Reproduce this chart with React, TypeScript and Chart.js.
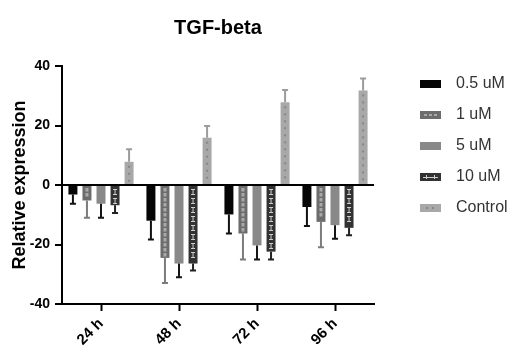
import React, { useEffect, useRef } from 'react';
import { Chart, registerables } from 'chart.js';

Chart.register(...registerables);

const categories = ['24 h', '48 h', '72 h', '96 h'];
const seriesNames = ['0.5 uM', '1 uM', '5 uM', '10 uM', 'Control'];
const values05 = [-3.2, -12, -9.9, -7.4];
const values1 = [-5.2, -24.5, -16.3, -12.4];
const values5 = [-6.3, -26.4, -20.3, -13.5];
const values10 = [-6.8, -26.4, -22.4, -14.4];
const valuesControl = [7.8, 15.9, 27.8, 31.8];
const err05 = [3.1, 6.3, 6.4, 6.4];
const err1 = [5.8, 8.4, 8.7, 8.5];
const err5 = [4.7, 4.6, 4.7, 4.6];
const err10 = [2.6, 2.3, 2.6, 2.5];
const errControl = [4.2, 3.9, 4.1, 4.0];
const yMin = -40;
const yMax = 40;
const yStep = 20;

const FONT = "'Liberation Sans', Arial, Helvetica, sans-serif";
const fillColors = ['#060606', '#6c6c6c', '#898989', '#323232', '#a8a8a8'];
const errColors = ['#111111', '#7c7c7c', '#151515', '#222222', '#9c9c9c'];
const patterns = ['none', 'dash', 'none', 'ibeam', 'dot'];

function makeLegendImage(i: number): HTMLCanvasElement {
  const c = document.createElement('canvas');
  c.width = 28;
  c.height = 8;
  const g = c.getContext('2d')!;
  g.fillStyle = fillColors[i];
  g.fillRect(0, 0, 21, 8);
  const p = patterns[i];
  if (p === 'dash') {
    g.fillStyle = '#a9a9a9';
    for (let x = 4; x < 19; x += 5) g.fillRect(x, 3, 3, 2);
  } else if (p === 'ibeam') {
    g.fillStyle = '#d0d0d0';
    g.fillRect(3, 4, 15, 1);
    g.fillRect(6, 2, 1, 4);
    g.fillRect(14, 2, 1, 4);
  } else if (p === 'dot') {
    g.fillStyle = '#868686';
    g.fillRect(6, 3, 2, 2);
    g.fillRect(12, 3, 2, 2);
  }
  return c;
}

const decorPlugin = {
  id: 'decorAndErrors',
  afterDatasetsDraw(chart: any) {
    const ctx = chart.ctx;
    const yScale = chart.scales.y;
    ctx.save();
    chart.data.datasets.forEach((ds: any, i: number) => {
      const meta = chart.getDatasetMeta(i);
      meta.data.forEach((bar: any, j: number) => {
        const { x, y, base } = bar.getProps(['x', 'y', 'base'], true);
        const top = Math.min(y, base);
        const bottom = Math.max(y, base);
        const p = patterns[i];
        if (p === 'dash') {
          ctx.fillStyle = '#a9a9a9';
          for (let yy = top + 2; yy + 3 < bottom - 1; yy += 5) ctx.fillRect(x - 1.5, yy, 3, 3.5);
        } else if (p === 'ibeam') {
          ctx.fillStyle = '#cfcfcf';
          for (let yy = top + 3; yy + 6 < bottom - 1; yy += 9) {
            ctx.fillRect(x - 2, yy, 4, 1);
            ctx.fillRect(x - 0.5, yy, 1, 6);
            ctx.fillRect(x - 2, yy + 5, 4, 1);
          }
        } else if (p === 'dot') {
          ctx.fillStyle = '#878787';
          for (let yy = top + 4; yy + 2 < bottom - 1; yy += 7) ctx.fillRect(x - 1, yy, 2, 2);
        }
        // error bar
        const v = ds.data[j];
        const e = ds.errors[j];
        const end = v + (v < 0 ? -e : e);
        const yEnd = yScale.getPixelForValue(end);
        ctx.strokeStyle = errColors[i];
        ctx.lineWidth = 2;
        ctx.beginPath();
        ctx.moveTo(x, y);
        ctx.lineTo(x, yEnd);
        ctx.moveTo(x - 3, yEnd);
        ctx.lineTo(x + 3, yEnd);
        ctx.stroke();
      });
    });
    ctx.restore();
  },
};

export default function App() {
  const ref = useRef<HTMLCanvasElement | null>(null);
  useEffect(() => {
    if (!ref.current) return;
    const allValues = [values05, values1, values5, values10, valuesControl];
    const allErrors = [err05, err1, err5, err10, errControl];
    const legendImages = seriesNames.map((_, i) => makeLegendImage(i));
    const chart = new Chart(ref.current, {
      type: 'bar',
      data: {
        labels: categories,
        datasets: seriesNames.map((name, i) => ({
          label: name,
          data: allValues[i],
          errors: allErrors[i],
          backgroundColor: fillColors[i],
          borderWidth: 0,
          categoryPercentage: 0.9,
          barPercentage: 0.64,
        })) as any,
      },
      options: {
        responsive: false,
        animation: false,
        layout: { padding: 0 },
        scales: {
          x: {
            offset: true,
            afterFit: (s: any) => { s.height = 43; },
            border: { display: true, color: '#000', width: 2 },
            grid: { display: true, drawOnChartArea: false, offset: false, tickColor: '#000', tickLength: 7, tickWidth: 2 },
            ticks: { color: '#000', font: { family: FONT, size: 15, weight: 'bold' }, maxRotation: 45, minRotation: 45, padding: 4 },
          },
          y: {
            min: yMin,
            max: yMax,
            z: 1,
            afterFit: (s: any) => { s.width = 62; },
            border: { display: true, color: '#000', width: 2 },
            grid: {
              drawOnChartArea: true,
              color: (c: any) => (c.tick && c.tick.value === 0 ? '#000' : 'rgba(0,0,0,0)'),
              lineWidth: 2,
              tickColor: '#000',
              tickLength: 7,
              tickWidth: 2,
            },
            ticks: { stepSize: yStep, color: '#000', font: { family: FONT, size: 14, weight: 'bold' }, padding: 5 },
            title: { display: true, text: 'Relative expression', color: '#000', font: { family: FONT, size: 18, weight: 'bold' }, padding: { top: 9, bottom: 0 } },
          },
          y2: {
            position: 'right',
            display: true,
            grid: { display: false },
            border: { display: false },
            ticks: { display: false },
            afterFit: (s: any) => { s.width = 31; },
          },
        },
        plugins: {
          title: {
            display: true,
            text: 'TGF-beta',
            fullSize: false,
            color: '#000',
            font: { family: FONT, size: 20, weight: 'bold', lineHeight: 1.2 },
            padding: { top: 16, bottom: 26 },
          },
          legend: {
            position: 'right',
            align: 'start',
            fullSize: true,
            maxWidth: 104,
            title: { display: true, text: ' ', font: { size: 10, lineHeight: 1 }, padding: { top: 51, bottom: 0 } },
            labels: {
              usePointStyle: true,
              pointStyleWidth: 28,
              boxHeight: 8,
              padding: 15,
              color: '#333',
              font: { family: FONT, size: 16 },
              generateLabels: (ch: any) =>
                ch.data.datasets.map((ds: any, i: number) => ({
                  text: ds.label,
                  datasetIndex: i,
                  hidden: false,
                  pointStyle: legendImages[i],
                  fillStyle: fillColors[i],
                  strokeStyle: 'rgba(0,0,0,0)',
                  lineWidth: 0,
                  fontColor: '#333',
                })),
            },
          },
          tooltip: { enabled: false },
        },
      } as any,
      plugins: [decorPlugin],
    });
    return () => chart.destroy();
  }, []);
  return (
    <div style={{ position: 'fixed', left: 0, top: 0, width: 509, height: 347, background: '#fff' }}>
      <canvas ref={ref} width={509} height={347} />
    </div>
  );
}
